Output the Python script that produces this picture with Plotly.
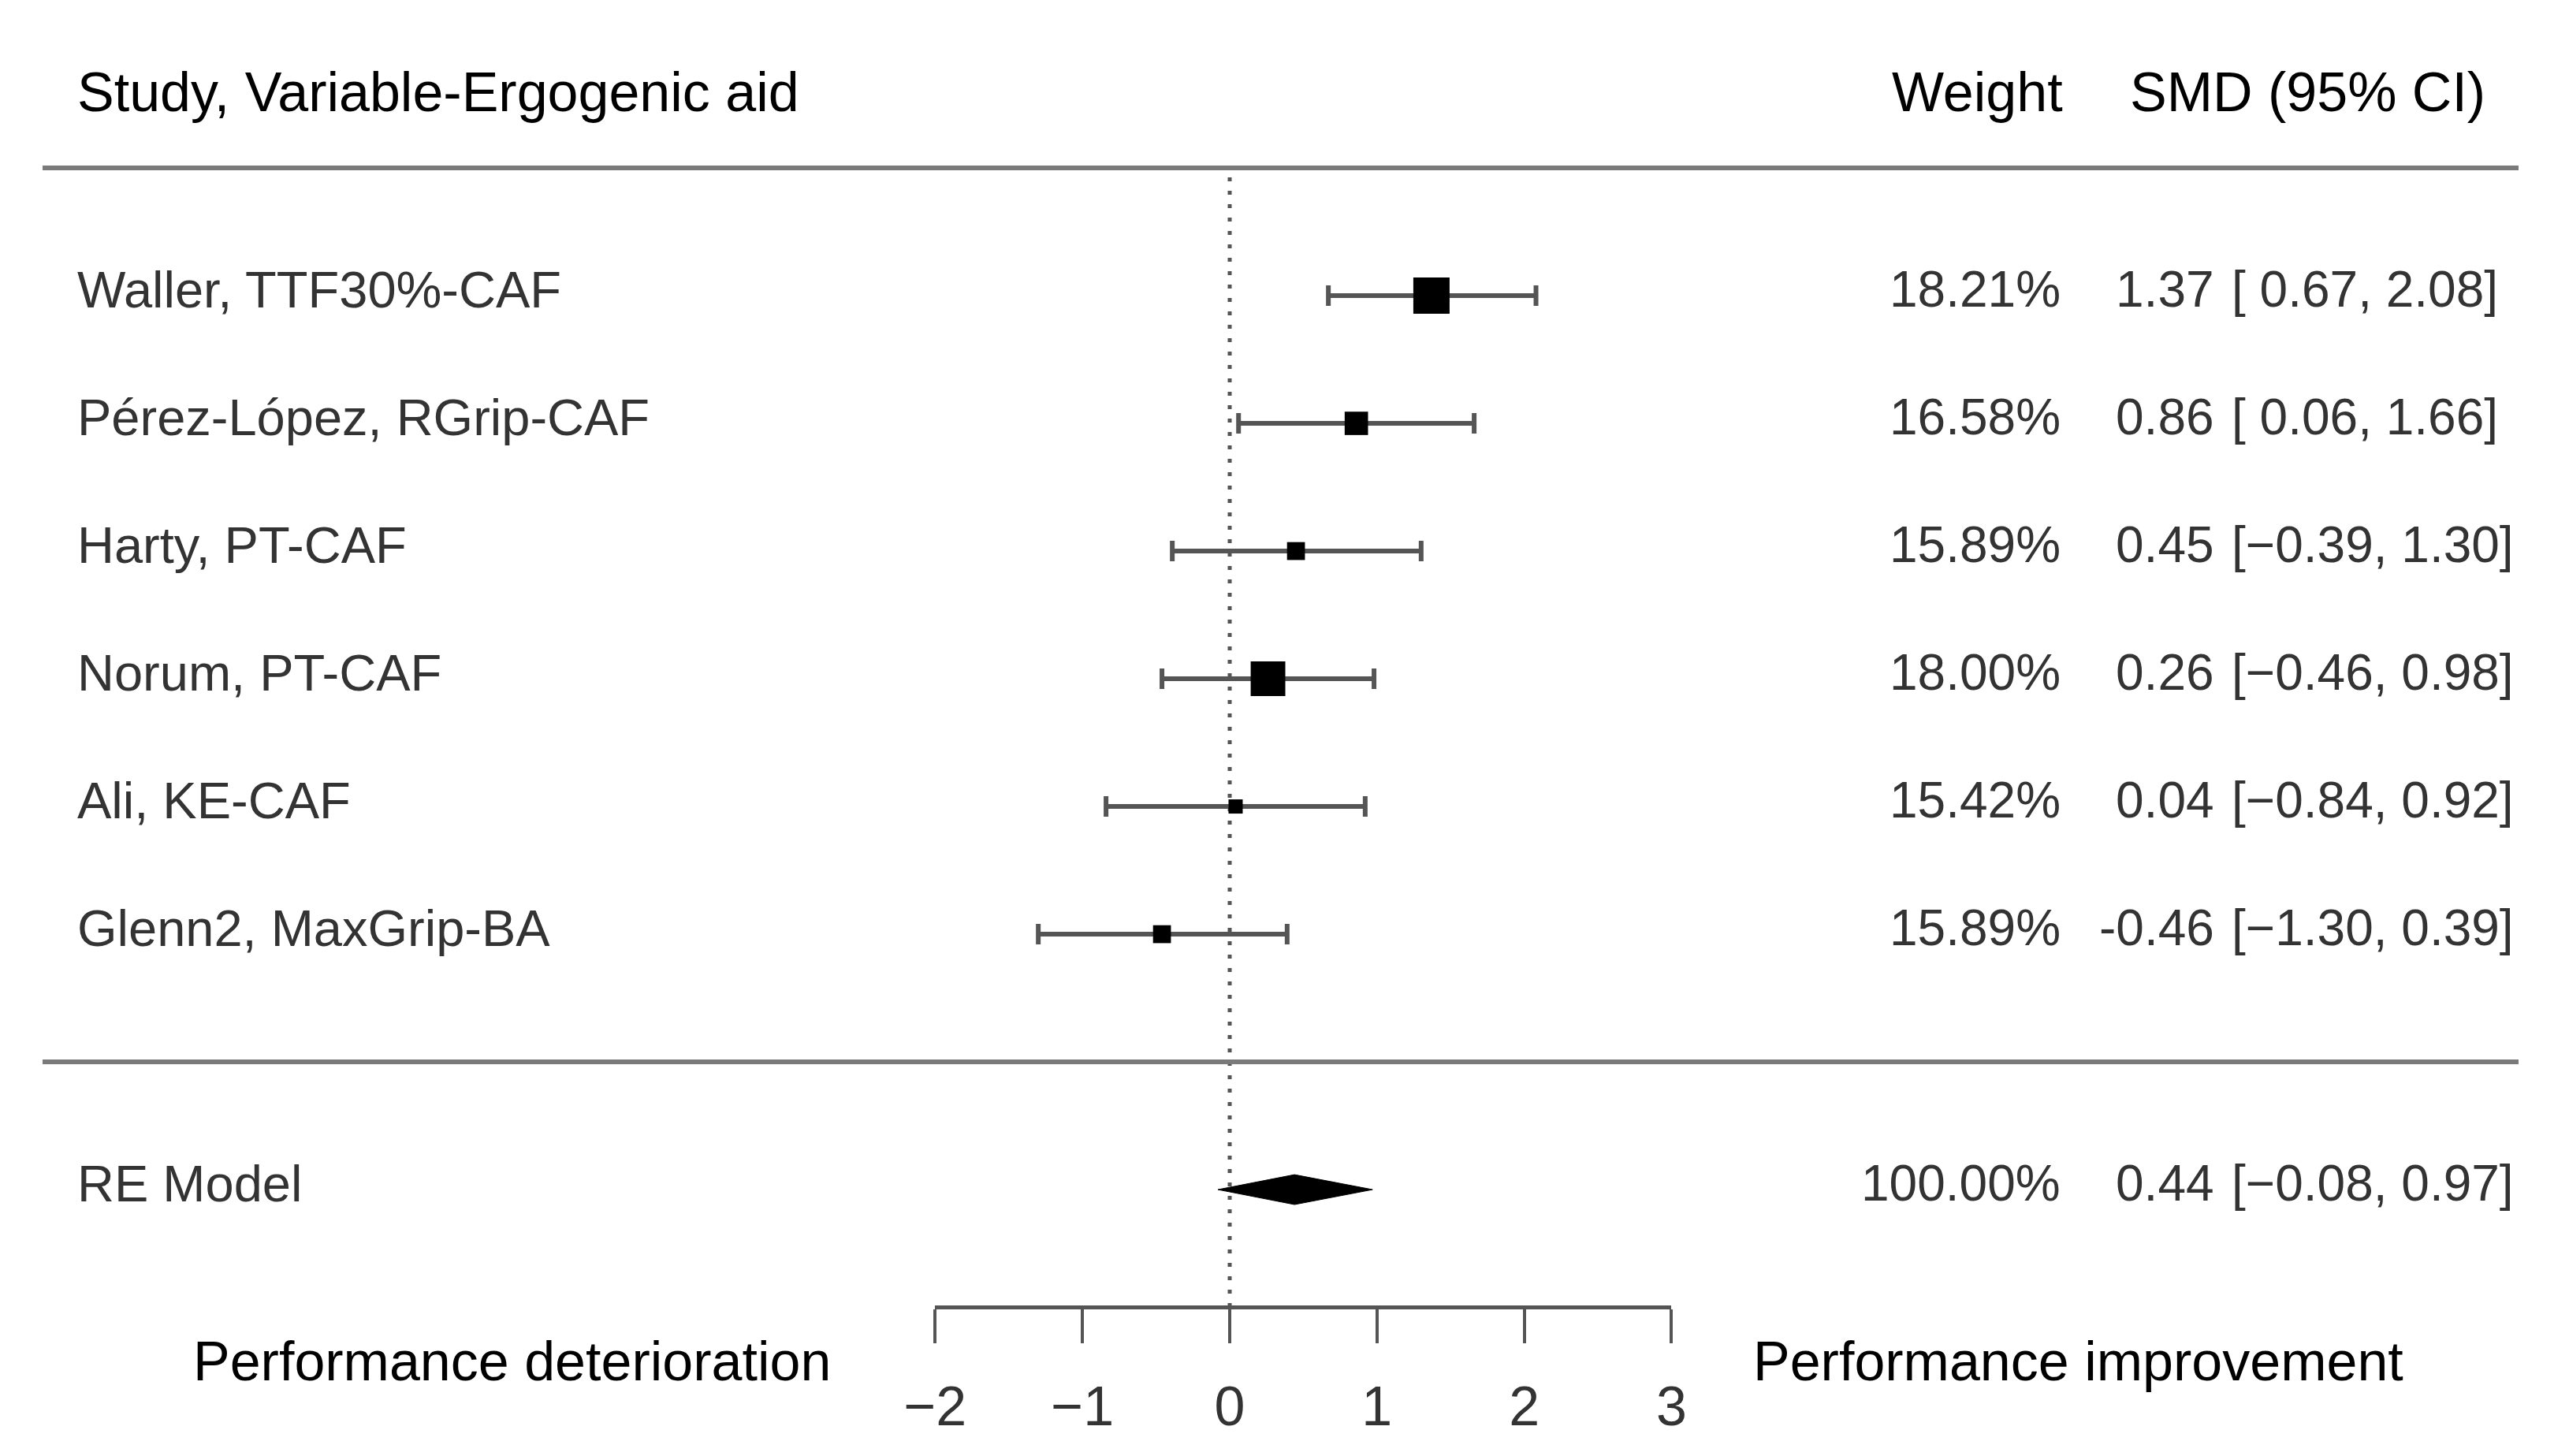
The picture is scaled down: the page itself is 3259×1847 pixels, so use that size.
import plotly.graph_objects as go

# ---------------- data ----------------
studies = ["Waller, TTF30%-CAF", "Pérez-López, RGrip-CAF", "Harty, PT-CAF",
           "Norum, PT-CAF", "Ali, KE-CAF", "Glenn2, MaxGrip-BA"]
smd = [1.37, 0.86, 0.45, 0.26, 0.04, -0.46]
ci_low = [0.67, 0.06, -0.39, -0.46, -0.84, -1.30]
ci_high = [2.08, 1.66, 1.30, 0.98, 0.92, 0.39]
weights = [18.21, 16.58, 15.89, 18.00, 15.42, 15.89]
rows = [6, 5, 4, 3, 2, 1]

re_label = "RE Model"
re_est = 0.44
re_low = -0.08
re_high = 0.97
re_weight = 100.00

tick_vals = [-2, -1, 0, 1, 2, 3]
null_value = 0

header_left = "Study, Variable-Ergogenic aid"
header_weight = "Weight"
header_smd = "SMD (95% CI)"
label_left = "Performance deterioration"
label_right = "Performance improvement"

# ---------------- layout constants ----------------
W, H = 3259, 1847
FONT = "Liberation Sans, Arial, Helvetica, sans-serif"
ROW_TOP_LINE = 7
ROW_SUM_LINE = 0
ROW_RE = -1
ROW_HEADER = 7.593
ROW_AXIS = -1.92
ROW_BOTTOM_LABELS = -2.346
Y_RANGE = [-3.086, 8.315]
DIAMOND_HALF = 0.117
TXT_SHIFT = 8


def px(x):
    return x / W


def fmt_ci(v, pad):
    s = f"{abs(v):.2f}"
    if v < 0:
        return "\u2212" + s
    return (" " + s) if pad else s


pad_lo = any(v < 0 for v in ci_low + [re_low])
pad_hi = any(v < 0 for v in ci_high + [re_high])

fig = go.Figure()

# CI bars
fig.add_trace(go.Scatter(
    x=smd, y=rows, mode="markers",
    marker=dict(size=1, color="rgba(0,0,0,0)"),
    error_x=dict(type="data", symmetric=False,
                 array=[h - e for h, e in zip(ci_high, smd)],
                 arrayminus=[e - l for e, l in zip(smd, ci_low)],
                 color="#555555", thickness=6, width=13),
    cliponaxis=False, hoverinfo="skip", showlegend=False))

# study squares
wmin, wmax = min(weights), max(weights)
sizes = [18 + (w - wmin) / (wmax - wmin) * 28 for w in weights]
fig.add_trace(go.Scatter(
    x=smd, y=rows, mode="markers",
    marker=dict(symbol="square", size=sizes, color="#000000", opacity=1,
                line=dict(width=0)),
    cliponaxis=False, hoverinfo="skip", showlegend=False))

# summary diamond
fig.add_trace(go.Scatter(
    x=[re_low, re_est, re_high, re_est, re_low],
    y=[ROW_RE, ROW_RE + DIAMOND_HALF, ROW_RE, ROW_RE - DIAMOND_HALF, ROW_RE],
    mode="lines", fill="toself", fillcolor="black",
    line=dict(color="black", width=1),
    cliponaxis=False, hoverinfo="skip", showlegend=False))

shapes = [
    dict(type="line", xref="paper", yref="y", x0=px(54), x1=px(3195),
         y0=ROW_TOP_LINE, y1=ROW_TOP_LINE, line=dict(color="#7a7a7a", width=6)),
    dict(type="line", xref="paper", yref="y", x0=px(54), x1=px(3195),
         y0=ROW_SUM_LINE, y1=ROW_SUM_LINE, line=dict(color="#7a7a7a", width=6)),
    dict(type="line", xref="x", yref="y", x0=null_value, x1=null_value,
         y0=ROW_AXIS, y1=ROW_TOP_LINE, layer="below",
         line=dict(color="#555555", width=5, dash="5px,12px")),
]

ann = []


def add_text(x, y, text, anchor, size, color, shift=TXT_SHIFT):
    ann.append(dict(xref="paper", yref="y", x=x, y=y, text=text, showarrow=False,
                    xanchor=anchor, yanchor="middle", yshift=shift,
                    font=dict(family=FONT, size=size, color=color)))


ROW_TXT = "#333333"
# headers
add_text(px(96), ROW_HEADER, header_left, "left", 70, "black", 0)
add_text(px(2619), ROW_HEADER, header_weight, "right", 70, "black", 0)
add_text(px(3155), ROW_HEADER, header_smd, "right", 70, "black", 0)

for s, e, lo, hi, w, r in zip(studies, smd, ci_low, ci_high, weights, rows):
    add_text(px(96), r, s, "left", 65, ROW_TXT)
    add_text(px(2616), r, f"{w:.2f}%", "right", 64, ROW_TXT)
    add_text(px(2811), r, f"{e:.2f}", "right", 64, ROW_TXT)
    add_text(px(2829), r, "[" + fmt_ci(lo, pad_lo) + ", " + fmt_ci(hi, pad_hi) + "]",
             "left", 64, ROW_TXT)

add_text(px(96), ROW_RE, re_label, "left", 65, ROW_TXT)
add_text(px(2616), ROW_RE, f"{re_weight:.2f}%", "right", 64, ROW_TXT)
add_text(px(2811), ROW_RE, f"{re_est:.2f}", "right", 64, ROW_TXT)
add_text(px(2829), ROW_RE, "[" + fmt_ci(re_low, pad_lo) + ", " + fmt_ci(re_high, pad_hi) + "]",
         "left", 64, ROW_TXT)

add_text(px(1056), ROW_BOTTOM_LABELS, label_left, "right", 70, "black", 0)
add_text(px(2222), ROW_BOTTOM_LABELS, label_right, "left", 70, "black", 0)

fig.update_layout(
    template="none",
    width=W, height=H,
    margin=dict(l=0, r=0, t=0, b=0, autoexpand=False),
    paper_bgcolor="white", plot_bgcolor="white",
    showlegend=False,
    shapes=shapes, annotations=ann,
    xaxis=dict(domain=[px(1186.4), px(2120.4)], range=[-2, 3],
               anchor="free", position=1 - 1658 / H, automargin=False,
               showline=True, linecolor="#555555", linewidth=5,
               ticks="outside", ticklen=43, tickwidth=4, tickcolor="#555555",
               ticklabelstandoff=20,
               tickvals=tick_vals, tickfont=dict(family=FONT, size=70, color=ROW_TXT),
               showgrid=False, zeroline=False, fixedrange=True),
    yaxis=dict(domain=[0, 1], range=Y_RANGE, visible=False, automargin=False,
               showgrid=False, zeroline=False, fixedrange=True),
)

fig.write_html("out.html", config={"displayModeBar": False},
               post_script="document.body.style.margin='0px';")
